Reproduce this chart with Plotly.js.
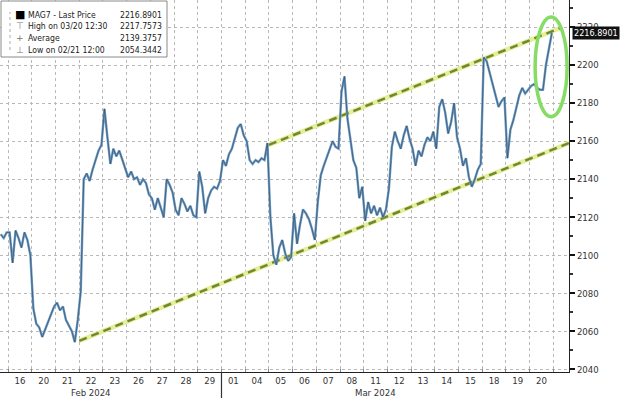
<!DOCTYPE html>
<html>
<head>
<meta charset="utf-8">
<script src="https://cdn.plot.ly/plotly-3.0.1.min.js"></script>
<style>
html,body{margin:0;padding:0;background:#fff;}
#chart{width:620px;height:398px;}
</style>
</head>
<body>
<div id="chart"></div>
<script>
// ---- data ----
const dayLabels = ['16','20','21','22','23','26','27','28','29','01','04','05','06','07','08','11','12','13','14','15','18','19','20'];
const monthNames = ['Feb 2024', 'Mar 2024'];
const monthLabelDay = [3, 15];                  // session under which each month name sits
const pointsPerDay = 8;
const priorTail = [2111, 2109, 2112];           // tail of the previous session (Feb 15)
const dayPrices = [
  [2112, 2096, 2113, 2109, 2104, 2112, 2108, 2100], // 16
  [2072, 2064, 2062, 2057, 2061, 2064, 2068, 2073], // 20
  [2075, 2071, 2073, 2066, 2063, 2060, 2054.3, 2066], // 21
  [2081, 2140, 2143, 2139, 2145, 2150, 2155, 2158], // 22
  [2177, 2162, 2148, 2156, 2152, 2155, 2150, 2146], // 23
  [2141, 2144, 2140, 2141, 2137, 2140, 2138, 2132], // 26
  [2130, 2124, 2130, 2125, 2120, 2140, 2137, 2133], // 27
  [2124, 2121, 2130, 2127, 2123, 2126, 2121, 2120], // 28
  [2144, 2136, 2122, 2130, 2134, 2136, 2135, 2139], // 29
  [2150, 2147, 2153, 2156, 2161, 2167, 2169, 2163], // 01
  [2160, 2150, 2148, 2150, 2149, 2151, 2150, 2159], // 04
  [2120, 2100, 2095, 2104, 2108, 2101, 2097, 2099], // 05
  [2122, 2106, 2116, 2124, 2122, 2119, 2114, 2108], // 06
  [2128, 2142, 2147, 2151, 2155, 2160, 2157, 2156], // 07
  [2186, 2194, 2172, 2160, 2150, 2146, 2130, 2136], // 08
  [2118, 2128, 2122, 2126, 2121, 2125, 2120, 2124], // 11
  [2135, 2157, 2165, 2160, 2156, 2163, 2168, 2161], // 12
  [2156, 2147, 2155, 2152, 2158, 2162, 2160, 2165], // 13
  [2156, 2178, 2182, 2175, 2164, 2170, 2180, 2162], // 14
  [2156, 2147, 2151, 2141, 2136, 2140, 2145, 2148], // 15
  [2204, 2202, 2196, 2189, 2184, 2178, 2181, 2183], // 18
  [2151, 2166, 2171, 2178, 2184, 2188, 2185, 2187], // 19
  [2189, 2190, 2188, 2187, 2187, 2200, 2208, 2216.8901] // 20
];
const legendNames  = ['MAG7 - Last Price', 'High on 03/20 12:30', 'Average', 'Low on 02/21 12:00'];
const legendValues = ['2216.8901', '2217.7573', '2139.3757', '2054.3442'];
const lastPrice = 2216.8901;
// channel lines: [session position, price]
const lowerChannelX = [3.0, 23.66];
const lowerChannelY = [2055, 2159];
const upperChannelX = [11.0, 23.3];
const upperChannelY = [2158, 2219.5];
// highlight ellipse: [x0, x1], [y0, y1]
const ellipseX = [22.23, 23.58];
const ellipseY = [2172.8, 2225.3];

// ---- build series ----
const xs = [], ys = [];
priorTail.forEach((v, k) => {
  xs.push(-1 + (k + 0.5 + pointsPerDay - priorTail.length) / pointsPerDay); ys.push(v);
});
dayPrices.forEach((arr, d) => {
  arr.forEach((v, k) => { xs.push(d + (k + 0.5) / pointsPerDay); ys.push(v); });
});

const nDays = dayLabels.length;
const tickVals = dayLabels.map((_, i) => i + 0.5);
const dayBounds = Array.from({length: nDays + 1}, (_, i) => i);

const FONT = 'DejaVu Sans Condensed, DejaVu Sans, sans-serif';

const traces = [
  {x: lowerChannelX, y: lowerChannelY, mode: 'lines', line: {color: '#e6ee9c', width: 4.5}, hoverinfo: 'skip'},
  {x: upperChannelX, y: upperChannelY, mode: 'lines', line: {color: '#e6ee9c', width: 4.5}, hoverinfo: 'skip'},
  {x: lowerChannelX, y: lowerChannelY, mode: 'lines', line: {color: '#6f8a2c', width: 2.5, dash: '8px,5px'}, hoverinfo: 'skip'},
  {x: upperChannelX, y: upperChannelY, mode: 'lines', line: {color: '#6f8a2c', width: 2.5, dash: '8px,5px'}, hoverinfo: 'skip'},
  {x: xs, y: ys, mode: 'lines', line: {color: '#6c9cc6', width: 2.4}},
  {x: xs, y: ys, mode: 'lines', line: {color: '#34495e', width: 0.9}, opacity: 0.75}
];

// legend rows (pixel layout converted to paper)
const plotW = 569, plotH = 372;
const rowY = [15, 26, 38, 50];
const icons = ['\u25A0', '\u22A4', '+', '\u22A5'];
const annotations = [];
legendNames.forEach((n, i) => {
  annotations.push({xref: 'paper', yref: 'paper', x: 26 / plotW, y: 1 - rowY[i] / plotH, xanchor: 'left', yanchor: 'middle',
    text: n, showarrow: false, font: {family: FONT, size: 8.6, color: '#222'}});
  annotations.push({xref: 'paper', yref: 'paper', x: 164 / plotW, y: 1 - rowY[i] / plotH, xanchor: 'right', yanchor: 'middle',
    text: legendValues[i], showarrow: false, font: {family: FONT, size: 8.6, color: '#222'}});
  annotations.push({xref: 'paper', yref: 'paper', x: 20 / plotW, y: 1 - rowY[i] / plotH, xanchor: 'center', yanchor: 'middle',
    text: icons[i], showarrow: false, font: {family: 'DejaVu Sans', size: i === 0 ? 11 : 9, color: i === 0 ? '#000' : '#777'}});
});
annotations.push({xref: 'paper', yref: 'y', x: 572 / plotW, y: lastPrice, xanchor: 'left', yanchor: 'middle',
  text: lastPrice.toFixed(4), showarrow: false, bgcolor: '#111', borderpad: 1,
  font: {family: FONT, size: 9, color: '#fff'}});
monthNames.forEach((m, i) => {
  annotations.push({xref: 'x', yref: 'paper', x: monthLabelDay[i] + 0.5, y: 1 - 392 / plotH, xanchor: 'center', yanchor: 'middle',
    text: m, showarrow: false, font: {family: FONT, size: 9.5, color: '#333'}});
});

const shapes = [
  {type: 'rect', xref: 'paper', yref: 'paper', x0: 1 / plotW, x1: 167 / plotW, y0: 1 - 57 / plotH, y1: 1 - 1 / plotH,
   fillcolor: '#fff', line: {color: '#8a8a8a', width: 1}, layer: 'above'},
  {type: 'line', xref: 'paper', yref: 'paper', x0: 10 / plotW, x1: 10 / plotW, y0: 1 - 50 / plotH, y1: 1 - 12 / plotH,
   line: {color: '#aaa', width: 1, dash: 'dot'}, layer: 'above'},
  {type: 'circle', xref: 'x', yref: 'y', x0: ellipseX[0], x1: ellipseX[1], y0: ellipseY[0], y1: ellipseY[1],
   line: {color: '#86dc64', width: 3.5}, layer: 'above'},
  {type: 'line', xref: 'x', yref: 'paper', x0: 9, x1: 9, y0: 0, y1: -0.075, line: {color: '#333', width: 1.2}}
];

const layout = {
  width: 620, height: 398,
  margin: {l: 0, r: 51, t: 0, b: 26, pad: 0},
  paper_bgcolor: '#fff', plot_bgcolor: '#fff',
  showlegend: false,
  font: {family: FONT, size: 9.5, color: '#333'},
  xaxis: {
    range: [-0.344, 23.66], tickmode: 'array', tickvals: tickVals, ticktext: dayLabels, tickangle: 0,
    showgrid: false, zeroline: false, ticks: '', showline: true, linecolor: '#222', linewidth: 1,
    tickfont: {family: FONT, size: 9.5, color: '#333'},
    minor: {tickmode: 'array', tickvals: dayBounds, showgrid: true, gridcolor: '#b8b8b8', griddash: 'dot', gridwidth: 1,
            ticks: 'inside', ticklen: 3, tickcolor: '#888'}
  },
  yaxis: {
    side: 'right', range: [2038.6, 2234.2], tick0: 2040, dtick: 20,
    showgrid: true, gridcolor: '#b8b8b8', griddash: 'dot', gridwidth: 1, zeroline: false,
    showline: true, linecolor: '#222', linewidth: 1,
    ticks: 'outside', ticklen: 5, tickwidth: 2, tickcolor: '#111',
    tickfont: {family: FONT, size: 9.5, color: '#333'},
    minor: {dtick: 10, tick0: 2040, ticks: 'outside', ticklen: 3, tickcolor: '#333', showgrid: false}
  },
  shapes: shapes,
  annotations: annotations
};

Plotly.newPlot('chart', traces, layout, {staticPlot: true, displayModeBar: false});
</script>
</body>
</html>
